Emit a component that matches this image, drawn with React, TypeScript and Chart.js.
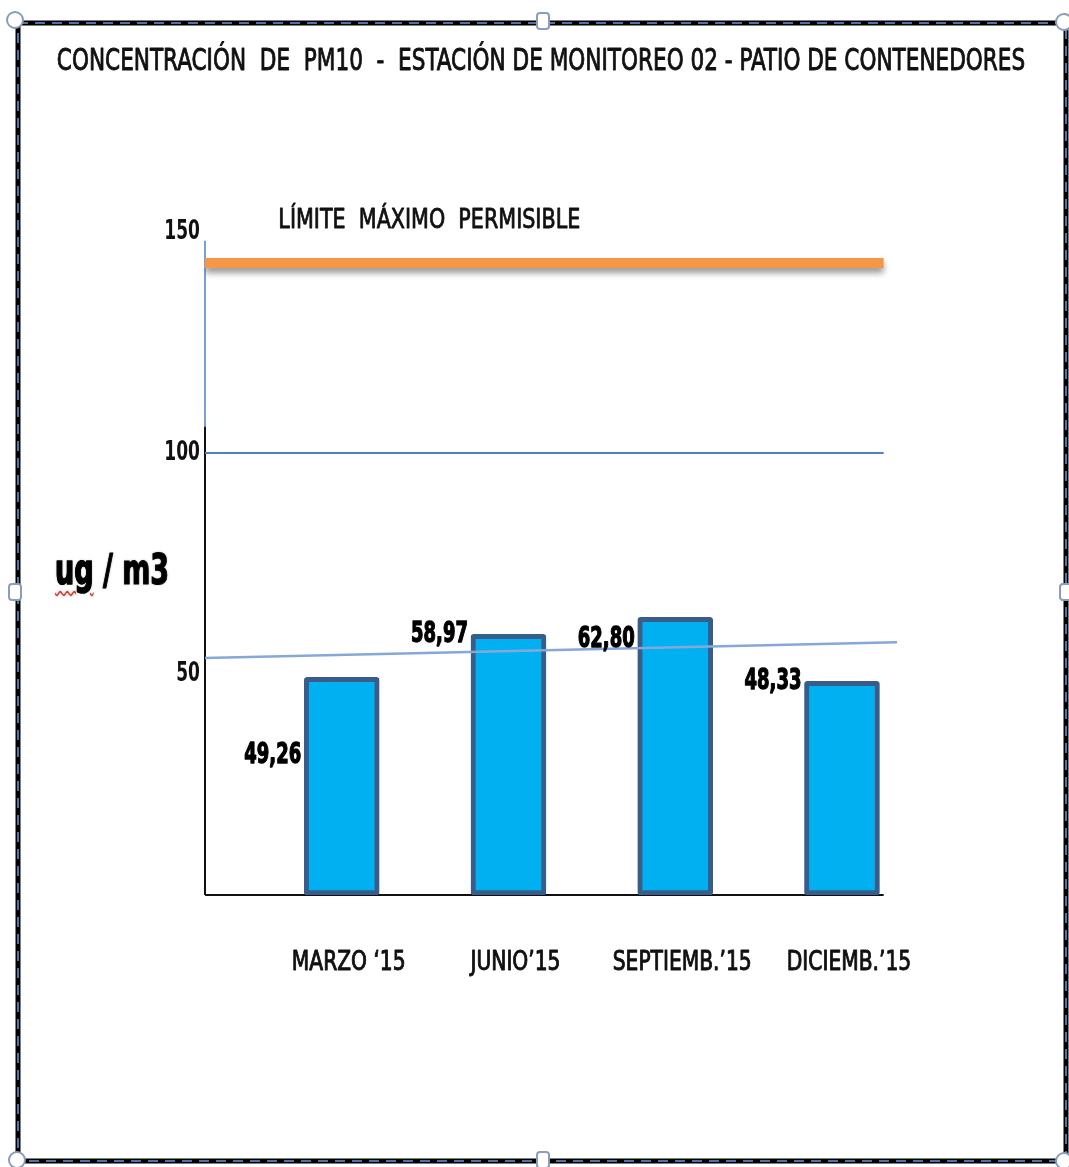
import React, { useEffect, useRef } from "react";
import { Chart, registerables } from "chart.js";

Chart.register(...registerables);

// ---------- data ----------
const TITLE = "CONCENTRACIÓN  DE  PM10  -  ESTACIÓN DE MONITOREO 02 - PATIO DE CONTENEDORES";
const categories = ["MARZO ‘15", "JUNIO’15", "SEPTIEMB.’15", "DICIEMB.’15"];
const categoryPositions = [1, 2, 3, 4];
const pm10Values = [49.26, 58.97, 62.8, 48.33];
const valueLabels = ["49,26", "58,97", "62,80", "48,33"];
const yTicks = [50, 100, 150];
const limitLabel = "LÍMITE  MÁXIMO  PERMISIBLE";
const limitValue = 143;
const referenceValue = 100;
const trendValues = [53.6, 57.2];
const yAxisLabel = "ug / m3";

// ---------- layout (axis ranges in data units) ----------
const X_MIN = 0.18;
const X_MAX = 4.33;
const LINE_END = 4.25;
const Y_MAX = 150;

const FONT = "'Liberation Sans Narrow', 'DejaVu Sans Condensed', 'Arial Narrow', sans-serif";

function stretchText(
  ctx: CanvasRenderingContext2D,
  text: string,
  x: number,
  y: number,
  font: string,
  align: CanvasTextAlign,
  sy: number,
  color = "#111",
  weight = 0
) {
  ctx.save();
  ctx.translate(x, y);
  ctx.scale(1, sy);
  ctx.font = font;
  ctx.fillStyle = color;
  ctx.textAlign = align;
  ctx.textBaseline = "middle";
  ctx.fillText(text, 0, 0);
  if (weight > 0) {
    ctx.strokeStyle = color;
    ctx.lineWidth = weight;
    ctx.lineJoin = "round";
    ctx.strokeText(text, 0, 0);
  }
  ctx.restore();
}

const decorPlugin = {
  id: "decor",
  beforeDatasetsDraw(chart: any) {
    const { ctx } = chart;
    const x = chart.scales.x;
    const y = chart.scales.y;
    const x0 = x.getPixelForValue(X_MIN);
    const yBase = y.getPixelForValue(0);
    ctx.save();
    ctx.lineCap = "butt";
    ctx.strokeStyle = "#111";
    ctx.lineWidth = 2;
    ctx.beginPath();
    ctx.moveTo(x0, yBase);
    ctx.lineTo(x0, y.getPixelForValue(106));
    ctx.stroke();
    ctx.strokeStyle = "#4F81BD";
    ctx.lineWidth = 1.5;
    ctx.beginPath();
    ctx.moveTo(x0, y.getPixelForValue(106));
    ctx.lineTo(x0, y.getPixelForValue(148));
    ctx.stroke();
    ctx.strokeStyle = "#111";
    ctx.lineWidth = 2;
    ctx.beginPath();
    ctx.moveTo(x0, yBase);
    ctx.lineTo(x.getPixelForValue(LINE_END), yBase);
    ctx.stroke();
    ctx.restore();
  },
  beforeDatasetDraw(chart: any, args: any) {
    if (args.index === 0) {
      const { ctx } = chart;
      ctx.save();
      ctx.shadowColor = "rgba(0,0,0,0.4)";
      ctx.shadowBlur = 6;
      ctx.shadowOffsetY = 5;
    }
  },
  afterDatasetDraw(chart: any, args: any) {
    if (args.index === 0) chart.ctx.restore();
  },
  afterDatasetsDraw(chart: any, _args: any, opts: any) {
    const { ctx } = chart;
    const x = chart.scales.x;
    const y = chart.scales.y;
    // title
    stretchText(ctx, TITLE, 541, 62, `24px ${FONT}`, "center", 1.22, "#111", 0.7);
    // limit label
    stretchText(ctx, limitLabel, x.getPixelForValue(0.62), y.getPixelForValue(152.5), `23px ${FONT}`, "left", 1.12, "#111", 0.7);
    // y tick labels
    yTicks.forEach((v) => {
      stretchText(ctx, String(v), x.getPixelForValue(X_MIN) - 5, y.getPixelForValue(v), `bold 19px ${FONT}`, "right", 1.4, "#111");
    });
    // x tick labels
    categoryPositions.forEach((p, i) => {
      stretchText(ctx, categories[i], x.getPixelForValue(p) + 7, 963, `22.5px ${FONT}`, "center", 1.2, "#111", 0.8);
    });
    // value labels
    const meta = chart.getDatasetMeta(3);
    meta.data.forEach((el: any, i: number) => {
      const frac = opts.labelAnchor[i] ?? 0;
      const ly = el.y + (el.base - el.y) * frac;
      stretchText(ctx, valueLabels[i], el.x - el.width / 2 - 3, ly, `bold 20px ${FONT}`, "right", 1.45, "#000", 0.9);
    });
  },
};

export default function App() {
  const ref = useRef<HTMLCanvasElement | null>(null);

  useEffect(() => {
    if (!ref.current) return;
    const chart = new Chart(ref.current, {
      type: "bar",
      data: {
        datasets: [
          {
            type: "line",
            label: "Límite",
            data: [
              { x: X_MIN, y: limitValue },
              { x: LINE_END, y: limitValue },
            ],
            borderColor: "#F79646",
            borderWidth: 10,
            pointRadius: 0,
            borderCapStyle: "butt",
          } as any,
          {
            type: "line",
            label: "100",
            data: [
              { x: X_MIN, y: referenceValue },
              { x: LINE_END, y: referenceValue },
            ],
            borderColor: "#4F81BD",
            borderWidth: 2,
            pointRadius: 0,
          } as any,
          {
            type: "line",
            label: "trend",
            data: [
              { x: X_MIN, y: trendValues[0] },
              { x: X_MAX, y: trendValues[1] },
            ],
            borderColor: "#86A8D8",
            borderWidth: 2.5,
            pointRadius: 0,
          } as any,
          {
            type: "bar",
            label: "PM10",
            data: categoryPositions.map((p, i) => ({ x: p, y: pm10Values[i] })),
            backgroundColor: "#00B0F0",
            borderColor: "#385D8A",
            borderWidth: 5,
            borderSkipped: false,
            borderRadius: 3,
            barThickness: 75,
          } as any,
        ],
      },
      options: {
        responsive: false,
        animation: false,
        devicePixelRatio: 1,
        layout: { padding: { top: 232, right: 172, left: 0, bottom: 0 } },
        plugins: {
          legend: { display: false },
          tooltip: { enabled: false },
          title: { display: false },
          decor: { labelAnchor: [0.36, 0, 0.08, 0] },
        } as any,
        scales: {
          x: {
            type: "linear",
            min: X_MIN,
            max: X_MAX,
            offset: false,
            grid: { display: false, drawTicks: false },
            border: { display: false },
            afterBuildTicks: (s: any) => {
              s.ticks = categoryPositions.map((v) => ({ value: v }));
            },
            afterFit: (s: any) => {
              s.height = 272;
            },
            ticks: { display: false },
          },
          y: {
            type: "linear",
            min: 0,
            max: Y_MAX,
            grid: { display: false, drawTicks: false },
            border: { display: false },
            afterBuildTicks: (s: any) => {
              s.ticks = yTicks.map((v) => ({ value: v }));
            },
            afterFit: (s: any) => {
              s.width = 205;
            },
            ticks: { display: false },
          },
        },
      },
      plugins: [decorPlugin],
    });
    return () => chart.destroy();
  }, []);

  const handleStyle = { fill: "#fff", stroke: "#8C9DB8", strokeWidth: 2 };

  return (
    <div
      style={{
        position: "absolute",
        left: 0,
        top: 0,
        width: 1069,
        height: 1167,
        background: "#fff",
        overflow: "hidden",
      }}
    >
      <canvas ref={ref} width={1069} height={1167} style={{ display: "block" }} />
      <div
        style={{
          position: "absolute",
          left: 55,
          top: 548,
          fontFamily: FONT,
          fontWeight: "bold",
          fontSize: 30,
          lineHeight: "32px",
          color: "#000",
          textShadow: "0 0 2px rgba(0,0,0,0.45)",
          WebkitTextStroke: "0.8px #000",
          whiteSpace: "pre",
          transform: "scale(1, 1.4)",
          transformOrigin: "0 0",
        }}
      >
        <span
          style={{
            textDecorationLine: "underline",
            textDecorationStyle: "wavy",
            textDecorationColor: "#D42A1E",
            textDecorationThickness: "1px",
            textUnderlineOffset: "4px",
          }}
        >
          {yAxisLabel.slice(0, 2)}
        </span>
        {yAxisLabel.slice(2)}
      </div>
      <svg
        width={1069}
        height={1167}
        style={{ position: "absolute", left: 0, top: 0, pointerEvents: "none" }}
      >
        <rect x={18} y={23} width={1048} height={1138} fill="none" stroke="#000" strokeWidth={5} />
        <rect
          x={18}
          y={23}
          width={1048}
          height={1138}
          fill="none"
          stroke="#4E73A8"
          strokeWidth={2}
          strokeDasharray="10 7"
        />
        <circle cx={15} cy={20} r={8} {...handleStyle} />
        <circle cx={1064} cy={22} r={8} {...handleStyle} />
        <circle cx={17} cy={1160} r={8} {...handleStyle} />
        <circle cx={1064} cy={1161} r={8} {...handleStyle} />
        <rect x={537} y={13} width={12} height={16} rx={3} {...handleStyle} />
        <rect x={537} y={1152} width={12} height={16} rx={3} {...handleStyle} />
        <rect x={9} y={584} width={12} height={16} rx={3} {...handleStyle} />
        <rect x={1060} y={584} width={12} height={16} rx={3} {...handleStyle} />
      </svg>
    </div>
  );
}
